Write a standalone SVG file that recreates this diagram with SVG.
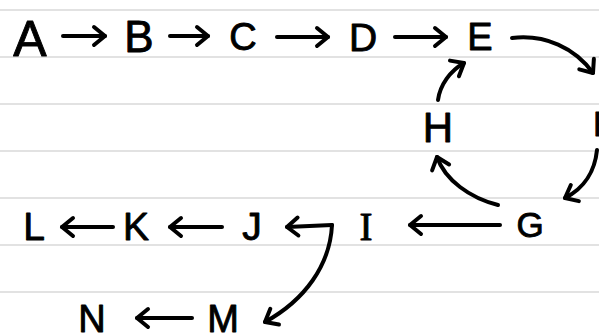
<svg xmlns="http://www.w3.org/2000/svg" width="599" height="334" viewBox="0 0 599 334">
  <style>
    .rule { stroke: #d9d9d9; stroke-width: 1.6; }
    .lbl { font-family: "Liberation Sans", Arial, sans-serif; fill: #000; stroke: #000; stroke-width: 0.9; stroke-linejoin: round; text-anchor: middle; }
    .serif { font-family: "Liberation Serif", "Times New Roman", serif; }
    .edge { fill: none; stroke: #000; stroke-width: 4; stroke-linecap: round; stroke-linejoin: round; }
  </style>
  <defs>
    <marker id="head" markerUnits="userSpaceOnUse" viewBox="-16 -12 20 24" markerWidth="20" markerHeight="24" refX="0" refY="0" orient="auto" overflow="visible">
      <path d="M-11,-9 L0,0 L-11,9" fill="none" stroke="#000" stroke-width="4" stroke-linecap="round" stroke-linejoin="round"/>
    </marker>
  </defs>

  <rect width="599" height="334" fill="#fff"/>

  <!-- ruled paper -->
  <g id="paper">
    <line class="rule" x1="0" y1="10" x2="599" y2="10"/>
    <line class="rule" x1="0" y1="57" x2="599" y2="57"/>
    <line class="rule" x1="0" y1="104" x2="599" y2="104"/>
    <line class="rule" x1="0" y1="151" x2="599" y2="151"/>
    <line class="rule" x1="0" y1="198" x2="599" y2="198"/>
    <line class="rule" x1="0" y1="245" x2="599" y2="245"/>
    <line class="rule" x1="0" y1="292" x2="599" y2="292"/>
  </g>

  <!-- connectors -->
  <g id="connectors">
    <path class="edge" d="M63,36 L105,36" marker-end="url(#head)"/>
    <path class="edge" d="M170,36 L208,36" marker-end="url(#head)"/>
    <path class="edge" d="M277,37 L328,37" marker-end="url(#head)"/>
    <path class="edge" d="M395,37 L446,37" marker-end="url(#head)"/>
    <path class="edge" d="M512,38 C545,34 575,48 593,73" marker-end="url(#head)"/>
    <path class="edge" d="M438,100 C440,85 450,71 464,63" marker-end="url(#head)"/>
    <path class="edge" d="M597,150 C595,170 585,188 565,198" marker-end="url(#head)"/>
    <path class="edge" d="M498,205 C470,198 445,180 437,157" marker-end="url(#head)"/>
    <path class="edge" d="M500,225 L410,225" marker-end="url(#head)"/>
    <path class="edge" d="M332,225 L287,227" marker-end="url(#head)"/>
    <path class="edge" d="M332,225 C330,265 305,300 265,322" marker-end="url(#head)"/>
    <path class="edge" d="M222,227 L170,227" marker-end="url(#head)"/>
    <path class="edge" d="M113,227 L62,227" marker-end="url(#head)"/>
    <path class="edge" d="M192,318 L137,318" marker-end="url(#head)"/>
  </g>

  <!-- nodes -->
  <g id="node-A"><text class="lbl" x="30" y="56" font-size="50">A</text></g>
  <g id="node-B"><text class="lbl" x="139" y="52" font-size="44">B</text></g>
  <g id="node-C"><text class="lbl" x="243" y="50" font-size="38">C</text></g>
  <g id="node-D"><text class="lbl" x="363" y="51" font-size="39">D</text></g>
  <g id="node-E"><text class="lbl" x="480" y="50" font-size="38">E</text></g>
  <g id="node-F"><text class="lbl" x="593" y="136" font-size="35" style="text-anchor:start">F</text></g>
  <g id="node-H"><text class="lbl" x="438" y="142" font-size="42">H</text></g>
  <g id="node-G"><text class="lbl" x="530" y="237" font-size="35">G</text></g>
  <g id="node-I"><text class="lbl serif" x="366" y="240" font-size="39">I</text></g>
  <g id="node-J"><text class="lbl" x="252" y="240" font-size="39">J</text></g>
  <g id="node-K"><text class="lbl" x="136" y="240" font-size="39">K</text></g>
  <g id="node-L"><text class="lbl" x="34" y="240" font-size="39">L</text></g>
  <g id="node-M"><text class="lbl" x="223" y="332" font-size="38">M</text></g>
  <g id="node-N"><text class="lbl" x="92" y="332" font-size="38">N</text></g>
</svg>
